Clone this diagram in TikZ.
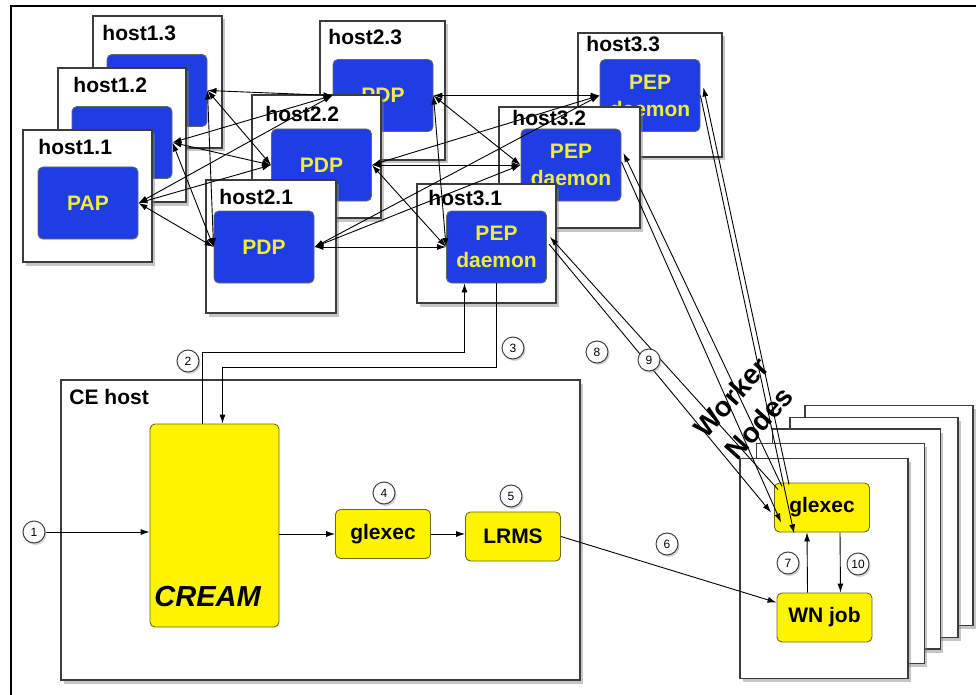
\documentclass[tikz,border=0pt]{standalone}
\usepackage{fontspec}
\setmainfont{Liberation Sans}
\usetikzlibrary{arrows.meta,calc,shadows}

\definecolor{authblue}{RGB}{30,62,228}
\definecolor{authtext}{RGB}{240,236,60}
\definecolor{jobyellow}{RGB}{255,244,0}
\definecolor{jobedge}{RGB}{110,105,20}
\definecolor{hostedge}{RGB}{60,60,60}

\tikzset{
  host/.style={draw=hostedge, line width=1.3pt, fill=white, inner sep=0pt,
    drop shadow={shadow xshift=2.5pt, shadow yshift=-3.5pt, opacity=0.45}},
  hostlabel/.style={anchor=west, inner sep=0pt, font=\fontsize{21}{21}\selectfont\bfseries},
  authbox/.style={draw=black!60, fill=authblue, rounded corners=5pt, inner sep=0pt,
    minimum width=100, minimum height=72, text=authtext, align=center,
    font=\fontsize{21}{27}\selectfont\bfseries},
  jobbox/.style={draw=jobedge, fill=jobyellow, rounded corners=5pt, inner sep=0pt,
    minimum width=95, minimum height=49, font=\fontsize{21}{21}\selectfont\bfseries},
  num/.style={circle, draw=black!75, fill=white, line width=1pt, minimum size=22,
    inner sep=0pt, font=\fontsize{12}{12}\selectfont,
    drop shadow={shadow xshift=1.5pt, shadow yshift=-2pt, opacity=0.35}}
}

\begin{document}
\begin{tikzpicture}[x=1pt, y=-1pt, >={Latex[length=9pt,width=6pt]}, line width=0.9pt]
  \useasboundingbox (0,0) rectangle (976,695);
  \draw[line width=2pt] (10.5,695) -- (10.5,6.5) -- (976,6.5);

  % PAP hosts
  \node[host, minimum width=129, minimum height=132] (h13) at (157.5,82) {};
  \node[hostlabel] (l13) at (102,33) {host1.3};
  \node[authbox] (pap13) at (157,90.5) {PAP};
  \node[host, minimum width=128, minimum height=134] (h12) at (122,135) {};
  \node[hostlabel] (l12) at (73,85) {host1.2};
  \node[authbox] (pap12) at (122,142.5) {PAP};
  \node[host, minimum width=129, minimum height=132] (h11) at (87.5,196) {};
  \node[hostlabel] (l11) at (38,147) {host1.1};
  \node[authbox] (pap11) at (88,203) {PAP};

  % PDP hosts
  \node[host, minimum width=125, minimum height=139] (h23) at (382.5,90.5) {};
  \node[hostlabel] (l23) at (328,37) {host2.3};
  \node[authbox] (pdp23) at (383,95.5) {PDP};
  \node[host, minimum width=129, minimum height=123] (h22) at (316.5,156.5) {};
  \node[hostlabel] (l22) at (265,114) {host2.2};
  \node[authbox] (pdp22) at (321.5,165) {PDP};
  \node[host, minimum width=130, minimum height=133] (h21) at (271,246.5) {};
  \node[hostlabel] (l21) at (219,197) {host2.1};
  \node[authbox] (pdp21) at (264,247) {PDP};

  % PEP hosts
  \node[host, minimum width=144, minimum height=124] (h33) at (650,95) {};
  \node[hostlabel] (l33) at (586,44) {host3.3};
  \node[authbox] (pep33) at (650,95.5) {PEP\\daemon};
  \node[host, minimum width=141, minimum height=121] (h32) at (569.5,167.5) {};
  \node[hostlabel] (l32) at (512,118) {host3.2};
  \node[authbox] (pep32) at (571,165) {PEP\\daemon};
  \node[host, minimum width=139, minimum height=119] (h31) at (486.5,243.5) {};
  \node[hostlabel] (l31) at (428,198) {host3.1};
  \node[authbox] (pep31) at (496.5,247) {PEP\\daemon};

  % CE host
  \node[host, minimum width=519, minimum height=300] (ce) at (320.5,530) {};
  \node[hostlabel] (cel) at (69,397) {CE host};
  \node[jobbox, minimum width=129, minimum height=203] (cream) at (214.5,525.5) {};
  \node[anchor=west, inner sep=0pt, font=\fontsize{29}{29}\selectfont\bfseries\itshape] (creaml) at (154,597) {CREAM};
  \node[jobbox] (ceglx) at (383,534) {glexec};
  \node[jobbox] (lrms) at (513,536.5) {LRMS};

  % worker nodes
  \node[host, minimum width=168, minimum height=220] (wn5) at (889,515.5) {};
  \node[host, minimum width=168, minimum height=220] (wn4) at (874,527.5) {};
  \node[host, minimum width=168, minimum height=220] (wn3) at (856.5,539) {};
  \node[host, minimum width=168, minimum height=220] (wn2) at (840.5,553.5) {};
  \node[host, minimum width=168, minimum height=220] (wn1) at (824,568.5) {};
  \node[jobbox] (wglx) at (822,507.5) {glexec};
  \node[jobbox] (wnjob) at (824.5,617.5) {WN job};
  \node[rotate=48, align=center, inner sep=0pt, font=\fontsize{28}{38}\selectfont\bfseries] (wnl) at (745,410) {Worker\\Nodes};

  \node[num] (n1) at (34,532) {1};

  % PAP <-> PDP
  \draw[<->] (pap13.east) -- (pdp23.west);
  \draw[<->] (pap13.east) -- (pdp22.west);
  \draw[<->] (pap13.east) -- (pdp21.west);
  \draw[<->] (pap12.east) -- (pdp23.west);
  \draw[<->] (pap12.east) -- (pdp22.west);
  \draw[<->] (pap12.east) -- (pdp21.west);
  \draw[<->] (pap11.east) -- (pdp23.west);
  \draw[<->] (pap11.east) -- (pdp22.west);
  \draw[<->] (pap11.east) -- (pdp21.west);
  % PDP <-> PEP
  \draw[<->] (pdp23.east) -- (pep33.west);
  \draw[<->] (pdp23.east) -- (pep32.west);
  \draw[<->] (pdp23.east) -- (pep31.west);
  \draw[<->] (pdp22.east) -- (pep33.west);
  \draw[<->] (pdp22.east) -- (pep32.west);
  \draw[<->] (pdp22.east) -- (pep31.west);
  \draw[<->] (pdp21.east) -- (pep33.west);
  \draw[<->] (pdp21.east) -- (pep32.west);
  \draw[<->] (pdp21.east) -- (pep31.west);

  % job flow
  \draw[->] (n1) -- (n1 -| cream.west);
  \draw[->] ($(cream.north)+(-12,0)$) -- ++(0,-71) -| ($(pep31.south)+(-32,0)$);
  \draw[->] (pep31.south) -- ++(0,84) -| ($(cream.north)+(8,0)$);
  \draw[->] (cream.east |- ceglx) -- (ceglx);
  \draw[->] (ceglx.east) -- (lrms.west |- ceglx.east);
  \draw[->] (lrms.east) -- ($(wnjob.west)+(0,-15)$);
  \draw[->] ($(wnjob.north)+(-17,0)$) -- ($(wglx.south)+(-15,0)$);
  \draw[->] ($(wglx.south)+(18,0)$) -- ($(wnjob.north)+(16,0)$);

  % glexec <-> PEP
  \draw[->] ($(wglx.north west)+(4,7)$) -- ($(pep31.east)+(3,-10)$);
  \draw[->] ($(pep31.east)+(2,-3)$) -- ($(wglx.west)+(-3,5)$);
  \draw[->] ($(wglx.north west)+(8,4)$) -- ($(pep32.east)+(2,-12)$);
  \draw[->] ($(pep32.east)+(0,-3)$) -- ($(wglx.south west)+(7,-10)$);
  \draw[->] ($(wglx.north west)+(15,2)$) -- ($(pep33.east)+(3,-8)$);
  \draw[->] (pep33.east) -- ($(wglx.south west)+(20,1)$);

  % step numbers
  \node[num] (n2) at (188,361) {2};
  \node[num] (n3) at (513,348) {3};
  \node[num] (n4) at (384,493) {4};
  \node[num] (n5) at (511,496) {5};
  \node[num] (n6) at (667,544) {6};
  \node[num] (n7) at (788,563) {7};
  \node[num] (n8) at (597,352) {8};
  \node[num] (n9) at (649,360) {9};
  \node[num] (n10) at (858,564) {10};
\end{tikzpicture}
\end{document}
